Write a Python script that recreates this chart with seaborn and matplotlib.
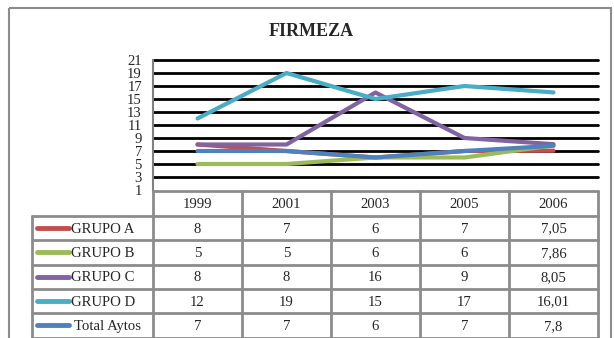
import matplotlib
matplotlib.use("Agg")
import matplotlib.pyplot as plt
import seaborn as sns
import pandas as pd

# Data
years = ["1999", "2001", "2003", "2005", "2006"]
grupo_a = [8, 7, 6, 7, 7.05]
grupo_b = [5, 5, 6, 6, 7.86]
grupo_c = [8, 8, 16, 9, 8.05]
grupo_d = [12, 19, 15, 17, 16.01]
total_aytos = [7, 7, 6, 7, 7.8]
series_names = ["GRUPO A", "GRUPO B", "GRUPO C", "GRUPO D", "Total Aytos"]
series_values = [grupo_a, grupo_b, grupo_c, grupo_d, total_aytos]
colors = ["#C0504D", "#9BBB59", "#8064A2", "#4BACC6", "#4F81BD"]
yticks = list(range(1, 22, 2))
title = "FIRMEZA"

rows = []
for name, vals in zip(series_names, series_values):
    for i, v in enumerate(vals):
        rows.append({"grupo": name, "pos": i, "valor": v})
df = pd.DataFrame(rows)

def fmt(v):
    return (f"{v:g}").replace(".", ",")

sns.set_theme(style="white")
plt.rcParams["font.family"] = ["Liberation Serif", "DejaVu Serif"]

W, H = 614, 338
fig = plt.figure(figsize=(W / 100, H / 100), dpi=100)

# layout (pixels)
x_left, x_right = 153, 598
y_top, y_bot = 60, 190
label_left = 32
hdr_top, hdr_bot = 191, 216
row_h = 24.3

ax = fig.add_axes([x_left / W, 1 - y_bot / H, (x_right - x_left) / W, (y_bot - y_top) / H])
sns.lineplot(data=df, x="pos", y="valor", hue="grupo", hue_order=series_names,
             palette=colors, linewidth=3, legend=False, ax=ax, zorder=3)
ax.set_xlim(-0.5, len(years) - 0.5)
ax.set_ylim(yticks[0], yticks[-1])
ax.set_yticks(yticks)
ax.set_yticklabels([str(t) for t in yticks], fontsize=10.5)
ax.set_xticks([])
ax.set_xlabel("")
ax.set_ylabel("")
for t in yticks[1:]:
    ax.axhline(t, color="black", lw=2, zorder=1, clip_on=False)
for s in ["top", "right", "bottom"]:
    ax.spines[s].set_visible(False)
ax.spines["left"].set_color("#808080")
ax.spines["left"].set_linewidth(1.5)
ax.tick_params(axis="y", direction="out", length=5, width=1, color="#808080", pad=3)
ax.patch.set_alpha(0)

# Frame and title
ov = fig.add_axes([0, 0, 1, 1], zorder=-1)
ov.set_xlim(0, W)
ov.set_ylim(H, 0)
ov.axis("off")
ov.add_patch(plt.Rectangle((9, 8), W - 12, H + 5, fill=False, ec="#8c8c8c", lw=1.5))
ov.text(311, 31, title, ha="center", va="center", fontsize=13, fontweight="bold")

# Data table below the chart
tab = fig.add_axes([0, 0, 1, 1], zorder=2)
tab.set_xlim(0, W)
tab.set_ylim(H, 0)
tab.axis("off")
tab.patch.set_alpha(0)
gcol = "#8c8c8c"
ncols = len(years)
col_w = (x_right - x_left) / ncols
col_edges = [x_left + i * col_w for i in range(ncols + 1)]
row_edges = [hdr_bot + i * row_h for i in range(len(series_names) + 1)]
fs = 10.6

tab.plot([x_left, x_right], [hdr_top, hdr_top], color=gcol, lw=2)
for i, yr in enumerate(years):
    tab.text(col_edges[i] + col_w / 2, (hdr_top + hdr_bot) / 2 + 1, yr,
             ha="center", va="center", fontsize=fs)
for y in row_edges:
    tab.plot([label_left, x_right], [y, y], color=gcol, lw=2)
for x in col_edges:
    tab.plot([x, x], [hdr_top, H + 5], color=gcol, lw=2)
tab.plot([label_left, label_left], [hdr_bot, H + 5], color=gcol, lw=2)

for r, (name, vals, c) in enumerate(zip(series_names, series_values, colors)):
    yc = (row_edges[r] + row_edges[r + 1]) / 2
    tab.plot([37, 69], [yc, yc], color=c, lw=3.5, solid_capstyle="round")
    if name == "Total Aytos":
        tab.text(74, yc + 1, name, ha="left", va="center", fontsize=fs)
    else:
        tab.text(71, yc + 1, name, ha="left", va="center", fontsize=fs)
    for i, v in enumerate(vals):
        tab.text(col_edges[i] + col_w / 2, yc + 1, fmt(v), ha="center", va="center", fontsize=fs)

fig.savefig("out.png", dpi=100, facecolor="white")
